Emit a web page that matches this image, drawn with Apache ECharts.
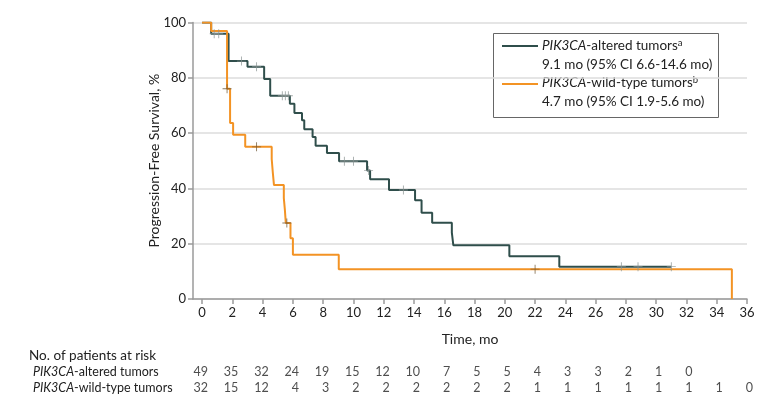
<!DOCTYPE html>
<html>
<head>
<meta charset="utf-8">
<script src="https://cdn.jsdelivr.net/npm/echarts@6/dist/echarts.min.js"></script>
<style>html,body{margin:0;padding:0;background:#fff}#c{width:780px;height:407px}</style>
</head>
<body>
<div id="c"></div>
<script>
// ---- data ----
const tickMonths = [0,2,4,6,8,10,12,14,16,18,20,22,24,26,28,30,32,34,36];

const alteredTimes = [0, 0.6, 1.75, 3.0, 4.1, 4.5, 5.8, 6.1, 6.6, 6.75, 7.3, 7.5, 8.25, 9.05, 10.9, 11.1, 12.35, 14.07, 14.5, 15.2, 16.5, 16.6, 20.3, 23.6, 31.0];
const alteredSurv  = [100, 95.9, 86, 84, 79.5, 73.5, 70.6, 67.2, 64.6, 61.4, 58.6, 55.4, 52.8, 49.8, 46.5, 43.3, 39.4, 35.7, 31.2, 27.6, 24, 19.4, 15.5, 11.7, 11.7];
const alteredCensT = [0.8, 1.1, 2.6, 3.6, 5.3, 5.5, 5.7, 9.4, 10.0, 11.0, 13.3, 27.7, 28.8, 31.0];
const alteredCensS = [95.9, 95.9, 86, 84, 73.5, 73.5, 73.5, 49.8, 49.8, 46.5, 39.4, 11.7, 11.7, 11.7];

const wildTimes = [0, 0.6, 1.65, 1.85, 2.05, 2.85, 4.6, 4.67, 4.75, 5.4, 5.47, 5.53, 5.84, 6.0, 9.03, 35.0];
const wildSurv  = [100, 96.9, 76, 63.6, 59.4, 55, 50.6, 45.9, 41.2, 36.5, 32.2, 27.5, 22, 16, 10.8, 0];
const wildCensT = [1.65, 3.6, 5.6, 22.0];
const wildCensS = [76, 55, 27.5, 10.8];

const riskRows = ['PIK3CA-altered tumors', 'PIK3CA-wild-type tumors'];
const alteredRisk = [49,35,32,24,19,15,12,10,7,5,5,4,3,3,2,1,0];
const wildRisk    = [32,15,12,4,3,2,2,2,2,2,2,1,1,1,1,1,1,1,0];

// ---- styles ----
const DARK = '#2f4e4b';
const ORANGE = '#f39324';
const FONT = 'Lato';
const TXT = '#222';
const PLUS = 'path://M4.5,0h1v4.5h4.5v1h-4.5v4.5h-1v-4.5h-4.5v-1h4.5z';

const zip = (a, b) => a.map((v, i) => [v, b[i]]);
const riskData = [];
alteredRisk.forEach((n, i) => riskData.push([tickMonths[i], 0, n]));
wildRisk.forEach((n, i) => riskData.push([tickMonths[i], 1, n]));

const LEG = 13.5;
const supRich = {
  i: {fontStyle: 'italic', fontSize: LEG, fontFamily: FONT, fill: TXT},
  s: {fontSize: 9.5, fontFamily: FONT, verticalAlign: 'top', padding: [0, 0, 6, 0], fill: TXT}
};
const legFont = LEG + 'px Lato';

const chart = echarts.init(document.getElementById('c'), null, {renderer: 'canvas'});
const option = {
  animation: false,
  textStyle: {fontFamily: FONT},
  grid: [
    {left: 193, right: 33, top: 22.4, bottom: 108},
    {left: 193, right: 33, top: 364, height: 32}
  ],
  xAxis: [
    {
      gridIndex: 0, type: 'value', min: -0.6, max: 36,
      name: 'Time, mo', nameLocation: 'middle', nameGap: 33,
      nameTextStyle: {fontFamily: FONT, fontSize: 14, color: TXT},
      axisLine: {onZero: false, lineStyle: {color: '#9a9a9a', width: 1.5}},
      axisTick: {customValues: tickMonths, length: 5, lineStyle: {color: '#9a9a9a', width: 1.5}},
      axisLabel: {customValues: tickMonths, fontFamily: FONT, fontSize: 13, color: TXT, margin: 7},
      splitLine: {show: false}
    },
    {gridIndex: 1, type: 'value', min: -0.6, max: 36, show: false}
  ],
  yAxis: [
    {
      gridIndex: 0, type: 'value', min: 0, max: 100, interval: 20,
      name: 'Progression-Free Survival, %', nameLocation: 'middle', nameGap: 32,
      nameMoveOverlap: false,
      nameTextStyle: {fontFamily: FONT, fontSize: 14, color: TXT},
      axisLine: {show: true, onZero: false, lineStyle: {color: '#9a9a9a', width: 1.5}},
      axisTick: {show: true, length: 5, lineStyle: {color: '#9a9a9a', width: 1.5}},
      axisLabel: {fontFamily: FONT, fontSize: 13, color: TXT, margin: 7},
      splitLine: {show: true, lineStyle: {color: '#dcdcdc', width: 1.5}}
    },
    {
      gridIndex: 1, type: 'category', data: riskRows, inverse: true,
      axisLine: {show: false}, axisTick: {show: false}, splitLine: {show: false},
      axisLabel: {
        interval: 0, hideOverlap: false,
        align: 'left', margin: 160, fontFamily: FONT, fontSize: 12.5, color: TXT,
        formatter: v => '{i|PIK3CA}' + v.slice(6),
        rich: {i: {fontStyle: 'italic', fontFamily: FONT, fontSize: 12.5, color: TXT}}
      }
    }
  ],
  title: {
    text: 'No. of patients at risk', left: 24, top: 344,
    textStyle: {fontFamily: FONT, fontSize: 13.5, fontWeight: 'normal', color: TXT}
  },
  series: [
    {type: 'line', name: 'altered', step: 'end', data: zip(alteredTimes, alteredSurv),
     showSymbol: false, lineStyle: {color: DARK, width: 2}, itemStyle: {color: DARK}, z: 3},
    {type: 'line', name: 'wild', step: 'end', data: zip(wildTimes, wildSurv),
     showSymbol: false, lineStyle: {color: ORANGE, width: 2}, itemStyle: {color: ORANGE}, z: 4},
    {type: 'scatter', data: zip(alteredCensT, alteredCensS), symbol: PLUS, symbolSize: 9,
     itemStyle: {color: '#8c9594'}, z: 5},
    {type: 'scatter', data: zip(wildCensT, wildCensS), symbol: PLUS, symbolSize: 9,
     itemStyle: {color: '#6e5633'}, z: 6},
    {type: 'scatter', xAxisIndex: 1, yAxisIndex: 1, data: riskData, symbolSize: 0,
     label: {show: true, position: 'inside', align: 'right', offset: [6, 0],
             formatter: p => String(p.value[2]), fontFamily: FONT, fontSize: 12.5, color: TXT}}
  ],
  graphic: [{
    type: 'group', z: 100, children: [
      {type: 'rect', shape: {x: 493.5, y: 33.5, width: 225, height: 84},
       style: {fill: '#fff', stroke: '#666', lineWidth: 1}},
      {type: 'line', shape: {x1: 502, y1: 46, x2: 538, y2: 46}, style: {stroke: DARK, lineWidth: 2}},
      {type: 'line', shape: {x1: 502, y1: 84, x2: 538, y2: 84}, style: {stroke: ORANGE, lineWidth: 2}},
      {type: 'text', x: 542, y: 46, style: {
        text: '{i|PIK3CA}-altered tumors{s|a}', verticalAlign: 'middle',
        font: legFont, fill: TXT, rich: supRich}},
      {type: 'text', x: 542, y: 64.5, style: {text: '9.1 mo (95% CI 6.6-14.6 mo)', verticalAlign: 'middle', font: legFont, fill: TXT}},
      {type: 'text', x: 542, y: 83, style: {
        text: '{i|PIK3CA}-wild-type tumors{s|b}', verticalAlign: 'middle',
        font: legFont, fill: TXT, rich: supRich}},
      {type: 'text', x: 542, y: 101.5, style: {text: '4.7 mo (95% CI 1.9-5.6 mo)', verticalAlign: 'middle', font: legFont, fill: TXT}}
    ]
  }]
};
chart.setOption(option);
</script>
</body>
</html>
